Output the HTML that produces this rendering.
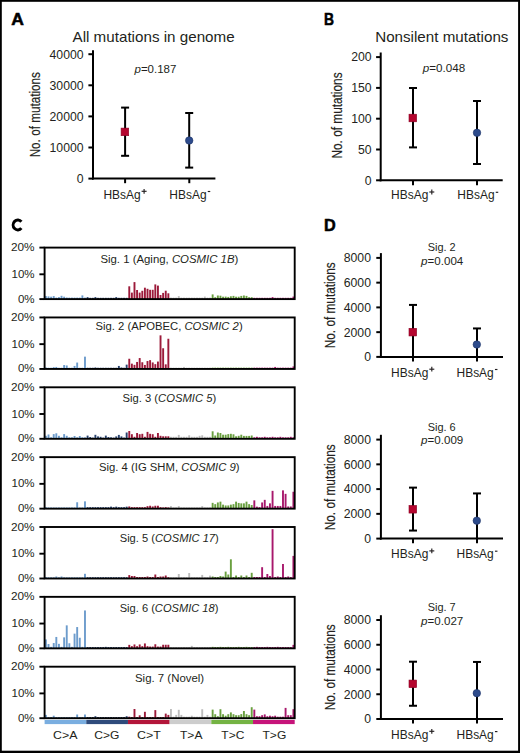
<!DOCTYPE html>
<html><head><meta charset="utf-8"><style>
html,body{margin:0;padding:0;background:#fff;}
svg{display:block;font-family:"Liberation Sans",sans-serif;}
</style></head><body>
<svg width="520" height="753" viewBox="0 0 520 753">
<rect x="0" y="0" width="520" height="753" fill="#fff"/>
<rect x="0.00" y="0.00" width="520.00" height="1.80" fill="#000"/>
<rect x="0.00" y="0.00" width="1.80" height="753.00" fill="#000"/>
<rect x="518.10" y="0.00" width="1.90" height="753.00" fill="#000"/>
<rect x="0.00" y="750.70" width="520.00" height="2.30" fill="#000"/>
<text transform="translate(11.30,25.35) scale(1.0116,1)" font-size="17.30" font-weight="bold" fill="#000" stroke="#000" stroke-width="0.55"><tspan>A</tspan></text>
<text transform="translate(72.50,41.70) scale(1.0558,1)" font-size="14.40" fill="#231f20"><tspan>All mutations in genome</tspan></text>
<line x1="93.00" y1="50.20" x2="93.00" y2="179.60" stroke="#000" stroke-width="2.00"/>
<line x1="92.00" y1="178.60" x2="215.40" y2="178.60" stroke="#000" stroke-width="2.00"/>
<line x1="88.40" y1="54.20" x2="93.00" y2="54.20" stroke="#000" stroke-width="2.00"/>
<text transform="translate(49.57,58.55) scale(1.0200,1)" font-size="12.00" fill="#231f20"><tspan>40000</tspan></text>
<line x1="88.40" y1="85.30" x2="93.00" y2="85.30" stroke="#000" stroke-width="2.00"/>
<text transform="translate(49.57,89.65) scale(1.0200,1)" font-size="12.00" fill="#231f20"><tspan>30000</tspan></text>
<line x1="88.40" y1="116.40" x2="93.00" y2="116.40" stroke="#000" stroke-width="2.00"/>
<text transform="translate(49.57,120.75) scale(1.0200,1)" font-size="12.00" fill="#231f20"><tspan>20000</tspan></text>
<line x1="88.40" y1="147.50" x2="93.00" y2="147.50" stroke="#000" stroke-width="2.00"/>
<text transform="translate(49.57,151.85) scale(1.0200,1)" font-size="12.00" fill="#231f20"><tspan>10000</tspan></text>
<line x1="88.40" y1="178.60" x2="93.00" y2="178.60" stroke="#000" stroke-width="2.00"/>
<text transform="translate(76.81,182.95) scale(1.0200,1)" font-size="12.00" fill="#231f20"><tspan>0</tspan></text>
<text transform="translate(40.30,114.70) rotate(-90) scale(0.7567,1)" font-size="15.50" fill="#231f20" stroke="#231f20" stroke-width="0.2" text-anchor="middle">No. of mutations</text>
<text transform="translate(134.49,73.20) scale(0.9899,1)" font-size="11.60" fill="#231f20"><tspan font-style="italic">p</tspan><tspan>=0.187</tspan></text>
<line x1="125.10" y1="178.60" x2="125.10" y2="183.20" stroke="#000" stroke-width="2.00"/>
<line x1="189.30" y1="178.60" x2="189.30" y2="183.20" stroke="#000" stroke-width="2.00"/>
<line x1="125.10" y1="107.60" x2="125.10" y2="155.80" stroke="#000" stroke-width="2.00"/>
<line x1="121.10" y1="107.60" x2="129.10" y2="107.60" stroke="#000" stroke-width="2.00"/>
<line x1="121.10" y1="155.80" x2="129.10" y2="155.80" stroke="#000" stroke-width="2.00"/>
<rect x="121.10" y="128.10" width="7.60" height="7.60" fill="#b5062f" stroke="#8a0022" stroke-width="0.6"/>
<line x1="189.20" y1="113.00" x2="189.20" y2="167.60" stroke="#000" stroke-width="2.00"/>
<line x1="185.20" y1="113.00" x2="193.20" y2="113.00" stroke="#000" stroke-width="2.00"/>
<line x1="185.20" y1="167.60" x2="193.20" y2="167.60" stroke="#000" stroke-width="2.00"/>
<circle cx="189.20" cy="140.50" r="3.75" fill="#2d4b8c" stroke="#1d3366" stroke-width="0.6"/>
<text transform="translate(103.40,198.60) scale(0.9968,1)" font-size="12.00" fill="#231f20"><tspan>HBsAg</tspan></text>
<line x1="141.60" y1="191.30" x2="146.60" y2="191.30" stroke="#231f20" stroke-width="1.15"/>
<line x1="144.10" y1="188.90" x2="144.10" y2="193.70" stroke="#231f20" stroke-width="1.15"/>
<text transform="translate(169.35,198.50) scale(0.9968,1)" font-size="12.00" fill="#231f20"><tspan>HBsAg</tspan></text>
<line x1="207.75" y1="191.50" x2="210.25" y2="191.50" stroke="#231f20" stroke-width="1.15"/>
<text transform="translate(324.00,25.35) scale(0.8028,1)" font-size="17.30" font-weight="bold" fill="#000" stroke="#000" stroke-width="0.55"><tspan>B</tspan></text>
<text transform="translate(375.20,41.70) scale(1.0543,1)" font-size="14.40" fill="#231f20"><tspan>Nonsilent mutations</tspan></text>
<line x1="380.70" y1="52.50" x2="380.70" y2="181.30" stroke="#000" stroke-width="2.00"/>
<line x1="379.70" y1="180.30" x2="502.70" y2="180.30" stroke="#000" stroke-width="2.00"/>
<line x1="376.10" y1="57.10" x2="380.70" y2="57.10" stroke="#000" stroke-width="2.00"/>
<text transform="translate(351.16,61.45) scale(1.0200,1)" font-size="12.00" fill="#231f20"><tspan>200</tspan></text>
<line x1="376.10" y1="87.90" x2="380.70" y2="87.90" stroke="#000" stroke-width="2.00"/>
<text transform="translate(351.16,92.25) scale(1.0200,1)" font-size="12.00" fill="#231f20"><tspan>150</tspan></text>
<line x1="376.10" y1="118.70" x2="380.70" y2="118.70" stroke="#000" stroke-width="2.00"/>
<text transform="translate(351.16,123.05) scale(1.0200,1)" font-size="12.00" fill="#231f20"><tspan>100</tspan></text>
<line x1="376.10" y1="149.50" x2="380.70" y2="149.50" stroke="#000" stroke-width="2.00"/>
<text transform="translate(358.01,153.85) scale(1.0200,1)" font-size="12.00" fill="#231f20"><tspan>50</tspan></text>
<line x1="376.10" y1="180.30" x2="380.70" y2="180.30" stroke="#000" stroke-width="2.00"/>
<text transform="translate(364.81,184.65) scale(1.0200,1)" font-size="12.00" fill="#231f20"><tspan>0</tspan></text>
<text transform="translate(342.00,115.50) rotate(-90) scale(0.7638,1)" font-size="15.50" fill="#231f20" stroke="#231f20" stroke-width="0.2" text-anchor="middle">No. of mutations</text>
<text transform="translate(422.79,71.70) scale(1.0217,1)" font-size="11.40" fill="#231f20"><tspan font-style="italic">p</tspan><tspan>=0.048</tspan></text>
<line x1="413.00" y1="180.30" x2="413.00" y2="185.20" stroke="#000" stroke-width="2.00"/>
<line x1="477.00" y1="180.30" x2="477.00" y2="185.20" stroke="#000" stroke-width="2.00"/>
<line x1="413.00" y1="88.00" x2="413.00" y2="147.40" stroke="#000" stroke-width="2.00"/>
<line x1="409.00" y1="88.00" x2="417.00" y2="88.00" stroke="#000" stroke-width="2.00"/>
<line x1="409.00" y1="147.40" x2="417.00" y2="147.40" stroke="#000" stroke-width="2.00"/>
<rect x="409.00" y="114.20" width="7.60" height="7.60" fill="#b5062f" stroke="#8a0022" stroke-width="0.6"/>
<line x1="477.00" y1="101.00" x2="477.00" y2="164.00" stroke="#000" stroke-width="2.00"/>
<line x1="473.00" y1="101.00" x2="481.00" y2="101.00" stroke="#000" stroke-width="2.00"/>
<line x1="473.00" y1="164.00" x2="481.00" y2="164.00" stroke="#000" stroke-width="2.00"/>
<circle cx="477.00" cy="132.80" r="3.75" fill="#2d4b8c" stroke="#1d3366" stroke-width="0.6"/>
<text transform="translate(391.10,199.30) scale(0.9968,1)" font-size="12.00" fill="#231f20"><tspan>HBsAg</tspan></text>
<line x1="429.30" y1="192.00" x2="434.30" y2="192.00" stroke="#231f20" stroke-width="1.15"/>
<line x1="431.80" y1="189.60" x2="431.80" y2="194.40" stroke="#231f20" stroke-width="1.15"/>
<text transform="translate(457.35,199.30) scale(0.9968,1)" font-size="12.00" fill="#231f20"><tspan>HBsAg</tspan></text>
<line x1="495.75" y1="192.30" x2="498.25" y2="192.30" stroke="#231f20" stroke-width="1.15"/>
<path d="M21.36,221.77 A4.65,4.95 0 1 0 21.36,228.13" fill="none" stroke="#000" stroke-width="3.0"/>
<rect x="44.95" y="296.10" width="1.90" height="3.00" fill="#6d9ccc"/>
<rect x="47.56" y="296.40" width="1.90" height="2.70" fill="#6d9ccc"/>
<rect x="50.16" y="296.70" width="1.90" height="2.40" fill="#6d9ccc"/>
<rect x="52.77" y="296.10" width="1.90" height="3.00" fill="#6d9ccc"/>
<rect x="55.37" y="297.60" width="1.90" height="1.50" fill="#6d9ccc"/>
<rect x="57.98" y="297.10" width="1.90" height="2.00" fill="#6d9ccc"/>
<rect x="60.58" y="295.80" width="1.90" height="3.30" fill="#6d9ccc"/>
<rect x="63.19" y="296.70" width="1.90" height="2.40" fill="#6d9ccc"/>
<rect x="65.79" y="297.50" width="1.90" height="1.60" fill="#6d9ccc"/>
<rect x="68.40" y="297.60" width="1.90" height="1.50" fill="#6d9ccc"/>
<rect x="71.00" y="297.60" width="1.90" height="1.50" fill="#6d9ccc"/>
<rect x="73.61" y="297.60" width="1.90" height="1.50" fill="#6d9ccc"/>
<rect x="76.22" y="297.60" width="1.90" height="1.50" fill="#6d9ccc"/>
<rect x="78.82" y="297.60" width="1.90" height="1.50" fill="#6d9ccc"/>
<rect x="81.43" y="295.40" width="1.90" height="3.70" fill="#6d9ccc"/>
<rect x="84.03" y="297.60" width="1.90" height="1.50" fill="#6d9ccc"/>
<rect x="86.64" y="297.10" width="1.90" height="2.00" fill="#2a4470"/>
<rect x="89.24" y="297.80" width="1.90" height="1.30" fill="#2a4470"/>
<rect x="91.85" y="297.80" width="1.90" height="1.30" fill="#2a4470"/>
<rect x="94.45" y="297.10" width="1.90" height="2.00" fill="#2a4470"/>
<rect x="97.06" y="297.80" width="1.90" height="1.30" fill="#2a4470"/>
<rect x="99.66" y="297.80" width="1.90" height="1.30" fill="#2a4470"/>
<rect x="102.27" y="297.80" width="1.90" height="1.30" fill="#2a4470"/>
<rect x="104.87" y="297.80" width="1.90" height="1.30" fill="#2a4470"/>
<rect x="107.48" y="297.80" width="1.90" height="1.30" fill="#2a4470"/>
<rect x="110.08" y="297.80" width="1.90" height="1.30" fill="#2a4470"/>
<rect x="112.69" y="297.80" width="1.90" height="1.30" fill="#2a4470"/>
<rect x="115.29" y="297.10" width="1.90" height="2.00" fill="#2a4470"/>
<rect x="117.90" y="297.80" width="1.90" height="1.30" fill="#2a4470"/>
<rect x="120.50" y="297.80" width="1.90" height="1.30" fill="#2a4470"/>
<rect x="123.11" y="297.80" width="1.90" height="1.30" fill="#2a4470"/>
<rect x="125.71" y="297.80" width="1.90" height="1.30" fill="#2a4470"/>
<rect x="128.32" y="286.30" width="1.90" height="12.80" fill="#9c1a3a"/>
<rect x="130.92" y="292.60" width="1.90" height="6.50" fill="#9c1a3a"/>
<rect x="133.53" y="282.10" width="1.90" height="17.00" fill="#9c1a3a"/>
<rect x="136.13" y="290.00" width="1.90" height="9.10" fill="#9c1a3a"/>
<rect x="138.74" y="292.60" width="1.90" height="6.50" fill="#9c1a3a"/>
<rect x="141.35" y="290.80" width="1.90" height="8.30" fill="#9c1a3a"/>
<rect x="143.95" y="287.70" width="1.90" height="11.40" fill="#9c1a3a"/>
<rect x="146.56" y="288.80" width="1.90" height="10.30" fill="#9c1a3a"/>
<rect x="149.16" y="289.80" width="1.90" height="9.30" fill="#9c1a3a"/>
<rect x="151.77" y="289.80" width="1.90" height="9.30" fill="#9c1a3a"/>
<rect x="154.37" y="284.40" width="1.90" height="14.70" fill="#9c1a3a"/>
<rect x="156.98" y="285.60" width="1.90" height="13.50" fill="#9c1a3a"/>
<rect x="159.58" y="295.00" width="1.90" height="4.10" fill="#9c1a3a"/>
<rect x="162.19" y="292.90" width="1.90" height="6.20" fill="#9c1a3a"/>
<rect x="164.79" y="290.70" width="1.90" height="8.40" fill="#9c1a3a"/>
<rect x="167.40" y="293.30" width="1.90" height="5.80" fill="#9c1a3a"/>
<rect x="170.00" y="297.60" width="1.90" height="1.50" fill="#bdbdbd"/>
<rect x="172.61" y="297.60" width="1.90" height="1.50" fill="#bdbdbd"/>
<rect x="175.21" y="297.60" width="1.90" height="1.50" fill="#bdbdbd"/>
<rect x="177.82" y="296.10" width="1.90" height="3.00" fill="#bdbdbd"/>
<rect x="180.42" y="297.60" width="1.90" height="1.50" fill="#bdbdbd"/>
<rect x="183.03" y="297.60" width="1.90" height="1.50" fill="#bdbdbd"/>
<rect x="185.63" y="297.60" width="1.90" height="1.50" fill="#bdbdbd"/>
<rect x="188.24" y="297.60" width="1.90" height="1.50" fill="#bdbdbd"/>
<rect x="190.84" y="297.60" width="1.90" height="1.50" fill="#bdbdbd"/>
<rect x="193.45" y="297.60" width="1.90" height="1.50" fill="#bdbdbd"/>
<rect x="196.05" y="297.60" width="1.90" height="1.50" fill="#bdbdbd"/>
<rect x="198.66" y="297.60" width="1.90" height="1.50" fill="#bdbdbd"/>
<rect x="201.27" y="297.60" width="1.90" height="1.50" fill="#bdbdbd"/>
<rect x="203.87" y="296.60" width="1.90" height="2.50" fill="#bdbdbd"/>
<rect x="206.48" y="297.60" width="1.90" height="1.50" fill="#bdbdbd"/>
<rect x="209.08" y="297.60" width="1.90" height="1.50" fill="#bdbdbd"/>
<rect x="211.69" y="294.40" width="1.90" height="4.70" fill="#6aa040"/>
<rect x="214.29" y="297.20" width="1.90" height="1.90" fill="#6aa040"/>
<rect x="216.90" y="295.50" width="1.90" height="3.60" fill="#6aa040"/>
<rect x="219.50" y="295.70" width="1.90" height="3.40" fill="#6aa040"/>
<rect x="222.11" y="296.70" width="1.90" height="2.40" fill="#6aa040"/>
<rect x="224.71" y="296.60" width="1.90" height="2.50" fill="#6aa040"/>
<rect x="227.32" y="296.90" width="1.90" height="2.20" fill="#6aa040"/>
<rect x="229.92" y="296.30" width="1.90" height="2.80" fill="#6aa040"/>
<rect x="232.53" y="295.90" width="1.90" height="3.20" fill="#6aa040"/>
<rect x="235.13" y="296.70" width="1.90" height="2.40" fill="#6aa040"/>
<rect x="237.74" y="296.70" width="1.90" height="2.40" fill="#6aa040"/>
<rect x="240.34" y="295.90" width="1.90" height="3.20" fill="#6aa040"/>
<rect x="242.95" y="295.50" width="1.90" height="3.60" fill="#6aa040"/>
<rect x="245.55" y="295.90" width="1.90" height="3.20" fill="#6aa040"/>
<rect x="248.16" y="297.20" width="1.90" height="1.90" fill="#6aa040"/>
<rect x="250.76" y="297.20" width="1.90" height="1.90" fill="#6aa040"/>
<rect x="253.37" y="297.80" width="1.90" height="1.30" fill="#a8186c"/>
<rect x="255.97" y="297.80" width="1.90" height="1.30" fill="#a8186c"/>
<rect x="258.58" y="297.80" width="1.90" height="1.30" fill="#a8186c"/>
<rect x="261.18" y="297.80" width="1.90" height="1.30" fill="#a8186c"/>
<rect x="263.79" y="297.80" width="1.90" height="1.30" fill="#a8186c"/>
<rect x="266.40" y="297.80" width="1.90" height="1.30" fill="#a8186c"/>
<rect x="269.00" y="297.80" width="1.90" height="1.30" fill="#a8186c"/>
<rect x="271.61" y="297.10" width="1.90" height="2.00" fill="#a8186c"/>
<rect x="274.21" y="297.80" width="1.90" height="1.30" fill="#a8186c"/>
<rect x="276.82" y="297.80" width="1.90" height="1.30" fill="#a8186c"/>
<rect x="279.42" y="297.80" width="1.90" height="1.30" fill="#a8186c"/>
<rect x="282.03" y="297.80" width="1.90" height="1.30" fill="#a8186c"/>
<rect x="284.63" y="297.80" width="1.90" height="1.30" fill="#a8186c"/>
<rect x="287.24" y="297.80" width="1.90" height="1.30" fill="#a8186c"/>
<rect x="289.84" y="297.80" width="1.90" height="1.30" fill="#a8186c"/>
<rect x="292.45" y="296.60" width="1.90" height="2.50" fill="#a8186c"/>
<rect x="44.60" y="247.60" width="250.10" height="51.50" fill="none" stroke="#000" stroke-width="1.9"/>
<line x1="39.40" y1="247.60" x2="44.60" y2="247.60" stroke="#000" stroke-width="1.90"/>
<text transform="translate(11.00,251.10) scale(1.0261,1)" font-size="11.50" fill="#231f20"><tspan>20%</tspan></text>
<line x1="39.40" y1="274.30" x2="44.60" y2="274.30" stroke="#000" stroke-width="1.90"/>
<text transform="translate(11.50,277.80) scale(1.0043,1)" font-size="11.50" fill="#231f20"><tspan>10%</tspan></text>
<line x1="39.40" y1="299.10" x2="44.60" y2="299.10" stroke="#000" stroke-width="1.90"/>
<text transform="translate(17.90,302.60) scale(1.0050,1)" font-size="11.50" fill="#231f20"><tspan>0%</tspan></text>
<text transform="translate(100.40,262.60) scale(1.0353,1)" font-size="11.00" fill="#231f20"><tspan>Sig. 1 (Aging, </tspan><tspan font-style="italic">COSMIC 1B</tspan><tspan>)</tspan></text>
<rect x="44.95" y="367.45" width="1.90" height="1.50" fill="#6d9ccc"/>
<rect x="47.56" y="367.75" width="1.90" height="1.20" fill="#6d9ccc"/>
<rect x="50.16" y="367.75" width="1.90" height="1.20" fill="#6d9ccc"/>
<rect x="52.77" y="367.15" width="1.90" height="1.80" fill="#6d9ccc"/>
<rect x="55.37" y="366.95" width="1.90" height="2.00" fill="#6d9ccc"/>
<rect x="57.98" y="367.75" width="1.90" height="1.20" fill="#6d9ccc"/>
<rect x="60.58" y="367.75" width="1.90" height="1.20" fill="#6d9ccc"/>
<rect x="63.19" y="365.05" width="1.90" height="3.90" fill="#6d9ccc"/>
<rect x="65.79" y="365.45" width="1.90" height="3.50" fill="#6d9ccc"/>
<rect x="68.40" y="367.75" width="1.90" height="1.20" fill="#6d9ccc"/>
<rect x="71.00" y="367.75" width="1.90" height="1.20" fill="#6d9ccc"/>
<rect x="73.61" y="365.95" width="1.90" height="3.00" fill="#6d9ccc"/>
<rect x="76.22" y="362.55" width="1.90" height="6.40" fill="#6d9ccc"/>
<rect x="78.82" y="367.75" width="1.90" height="1.20" fill="#6d9ccc"/>
<rect x="81.43" y="367.75" width="1.90" height="1.20" fill="#6d9ccc"/>
<rect x="84.03" y="356.65" width="1.90" height="12.30" fill="#6d9ccc"/>
<rect x="86.64" y="367.75" width="1.90" height="1.20" fill="#2a4470"/>
<rect x="89.24" y="367.75" width="1.90" height="1.20" fill="#2a4470"/>
<rect x="91.85" y="367.75" width="1.90" height="1.20" fill="#2a4470"/>
<rect x="94.45" y="367.45" width="1.90" height="1.50" fill="#2a4470"/>
<rect x="97.06" y="367.75" width="1.90" height="1.20" fill="#2a4470"/>
<rect x="99.66" y="367.75" width="1.90" height="1.20" fill="#2a4470"/>
<rect x="102.27" y="367.75" width="1.90" height="1.20" fill="#2a4470"/>
<rect x="104.87" y="367.75" width="1.90" height="1.20" fill="#2a4470"/>
<rect x="107.48" y="367.75" width="1.90" height="1.20" fill="#2a4470"/>
<rect x="110.08" y="367.75" width="1.90" height="1.20" fill="#2a4470"/>
<rect x="112.69" y="367.75" width="1.90" height="1.20" fill="#2a4470"/>
<rect x="115.29" y="367.75" width="1.90" height="1.20" fill="#2a4470"/>
<rect x="117.90" y="365.95" width="1.90" height="3.00" fill="#2a4470"/>
<rect x="120.50" y="367.45" width="1.90" height="1.50" fill="#2a4470"/>
<rect x="123.11" y="367.75" width="1.90" height="1.20" fill="#2a4470"/>
<rect x="125.71" y="364.65" width="1.90" height="4.30" fill="#2a4470"/>
<rect x="128.32" y="358.75" width="1.90" height="10.20" fill="#9c1a3a"/>
<rect x="130.92" y="363.65" width="1.90" height="5.30" fill="#9c1a3a"/>
<rect x="133.53" y="364.85" width="1.90" height="4.10" fill="#9c1a3a"/>
<rect x="136.13" y="361.95" width="1.90" height="7.00" fill="#9c1a3a"/>
<rect x="138.74" y="358.05" width="1.90" height="10.90" fill="#9c1a3a"/>
<rect x="141.35" y="362.25" width="1.90" height="6.70" fill="#9c1a3a"/>
<rect x="143.95" y="364.95" width="1.90" height="4.00" fill="#9c1a3a"/>
<rect x="146.56" y="361.05" width="1.90" height="7.90" fill="#9c1a3a"/>
<rect x="149.16" y="360.15" width="1.90" height="8.80" fill="#9c1a3a"/>
<rect x="151.77" y="362.45" width="1.90" height="6.50" fill="#9c1a3a"/>
<rect x="154.37" y="364.15" width="1.90" height="4.80" fill="#9c1a3a"/>
<rect x="156.98" y="361.55" width="1.90" height="7.40" fill="#9c1a3a"/>
<rect x="159.58" y="335.35" width="1.90" height="33.60" fill="#9c1a3a"/>
<rect x="162.19" y="348.25" width="1.90" height="20.70" fill="#9c1a3a"/>
<rect x="164.79" y="364.35" width="1.90" height="4.60" fill="#9c1a3a"/>
<rect x="167.40" y="338.75" width="1.90" height="30.20" fill="#9c1a3a"/>
<rect x="170.00" y="367.65" width="1.90" height="1.30" fill="#bdbdbd"/>
<rect x="172.61" y="367.65" width="1.90" height="1.30" fill="#bdbdbd"/>
<rect x="175.21" y="367.65" width="1.90" height="1.30" fill="#bdbdbd"/>
<rect x="177.82" y="367.65" width="1.90" height="1.30" fill="#bdbdbd"/>
<rect x="180.42" y="367.65" width="1.90" height="1.30" fill="#bdbdbd"/>
<rect x="183.03" y="366.95" width="1.90" height="2.00" fill="#bdbdbd"/>
<rect x="185.63" y="367.65" width="1.90" height="1.30" fill="#bdbdbd"/>
<rect x="188.24" y="367.65" width="1.90" height="1.30" fill="#bdbdbd"/>
<rect x="190.84" y="367.65" width="1.90" height="1.30" fill="#bdbdbd"/>
<rect x="193.45" y="367.65" width="1.90" height="1.30" fill="#bdbdbd"/>
<rect x="196.05" y="367.65" width="1.90" height="1.30" fill="#bdbdbd"/>
<rect x="198.66" y="367.65" width="1.90" height="1.30" fill="#bdbdbd"/>
<rect x="201.27" y="367.65" width="1.90" height="1.30" fill="#bdbdbd"/>
<rect x="203.87" y="367.65" width="1.90" height="1.30" fill="#bdbdbd"/>
<rect x="206.48" y="367.65" width="1.90" height="1.30" fill="#bdbdbd"/>
<rect x="209.08" y="367.65" width="1.90" height="1.30" fill="#bdbdbd"/>
<rect x="211.69" y="367.65" width="1.90" height="1.30" fill="#6aa040"/>
<rect x="214.29" y="367.65" width="1.90" height="1.30" fill="#6aa040"/>
<rect x="216.90" y="367.65" width="1.90" height="1.30" fill="#6aa040"/>
<rect x="219.50" y="367.65" width="1.90" height="1.30" fill="#6aa040"/>
<rect x="222.11" y="367.65" width="1.90" height="1.30" fill="#6aa040"/>
<rect x="224.71" y="367.65" width="1.90" height="1.30" fill="#6aa040"/>
<rect x="227.32" y="367.65" width="1.90" height="1.30" fill="#6aa040"/>
<rect x="229.92" y="367.65" width="1.90" height="1.30" fill="#6aa040"/>
<rect x="232.53" y="367.65" width="1.90" height="1.30" fill="#6aa040"/>
<rect x="235.13" y="367.65" width="1.90" height="1.30" fill="#6aa040"/>
<rect x="237.74" y="367.65" width="1.90" height="1.30" fill="#6aa040"/>
<rect x="240.34" y="367.65" width="1.90" height="1.30" fill="#6aa040"/>
<rect x="242.95" y="367.65" width="1.90" height="1.30" fill="#6aa040"/>
<rect x="245.55" y="367.65" width="1.90" height="1.30" fill="#6aa040"/>
<rect x="248.16" y="367.65" width="1.90" height="1.30" fill="#6aa040"/>
<rect x="250.76" y="367.65" width="1.90" height="1.30" fill="#6aa040"/>
<rect x="253.37" y="367.65" width="1.90" height="1.30" fill="#a8186c"/>
<rect x="255.97" y="367.65" width="1.90" height="1.30" fill="#a8186c"/>
<rect x="258.58" y="367.65" width="1.90" height="1.30" fill="#a8186c"/>
<rect x="261.18" y="367.65" width="1.90" height="1.30" fill="#a8186c"/>
<rect x="263.79" y="367.65" width="1.90" height="1.30" fill="#a8186c"/>
<rect x="266.40" y="367.65" width="1.90" height="1.30" fill="#a8186c"/>
<rect x="269.00" y="367.65" width="1.90" height="1.30" fill="#a8186c"/>
<rect x="271.61" y="367.65" width="1.90" height="1.30" fill="#a8186c"/>
<rect x="274.21" y="366.95" width="1.90" height="2.00" fill="#a8186c"/>
<rect x="276.82" y="367.65" width="1.90" height="1.30" fill="#a8186c"/>
<rect x="279.42" y="367.65" width="1.90" height="1.30" fill="#a8186c"/>
<rect x="282.03" y="367.65" width="1.90" height="1.30" fill="#a8186c"/>
<rect x="284.63" y="367.65" width="1.90" height="1.30" fill="#a8186c"/>
<rect x="287.24" y="367.65" width="1.90" height="1.30" fill="#a8186c"/>
<rect x="289.84" y="367.65" width="1.90" height="1.30" fill="#a8186c"/>
<rect x="292.45" y="366.45" width="1.90" height="2.50" fill="#a8186c"/>
<rect x="44.60" y="317.45" width="250.10" height="51.50" fill="none" stroke="#000" stroke-width="1.9"/>
<line x1="39.40" y1="317.45" x2="44.60" y2="317.45" stroke="#000" stroke-width="1.90"/>
<text transform="translate(11.00,320.95) scale(1.0261,1)" font-size="11.50" fill="#231f20"><tspan>20%</tspan></text>
<line x1="39.40" y1="344.15" x2="44.60" y2="344.15" stroke="#000" stroke-width="1.90"/>
<text transform="translate(11.50,347.65) scale(1.0043,1)" font-size="11.50" fill="#231f20"><tspan>10%</tspan></text>
<line x1="39.40" y1="368.95" x2="44.60" y2="368.95" stroke="#000" stroke-width="1.90"/>
<text transform="translate(17.90,372.45) scale(1.0050,1)" font-size="11.50" fill="#231f20"><tspan>0%</tspan></text>
<text transform="translate(95.50,329.80) scale(1.0260,1)" font-size="11.00" fill="#231f20"><tspan>Sig. 2 (APOBEC, </tspan><tspan font-style="italic">COSMIC 2</tspan><tspan>)</tspan></text>
<rect x="44.95" y="435.80" width="1.90" height="3.00" fill="#6d9ccc"/>
<rect x="47.56" y="434.50" width="1.90" height="4.30" fill="#6d9ccc"/>
<rect x="50.16" y="437.30" width="1.90" height="1.50" fill="#6d9ccc"/>
<rect x="52.77" y="434.10" width="1.90" height="4.70" fill="#6d9ccc"/>
<rect x="55.37" y="433.30" width="1.90" height="5.50" fill="#6d9ccc"/>
<rect x="57.98" y="435.80" width="1.90" height="3.00" fill="#6d9ccc"/>
<rect x="60.58" y="437.30" width="1.90" height="1.50" fill="#6d9ccc"/>
<rect x="63.19" y="434.10" width="1.90" height="4.70" fill="#6d9ccc"/>
<rect x="65.79" y="435.80" width="1.90" height="3.00" fill="#6d9ccc"/>
<rect x="68.40" y="437.30" width="1.90" height="1.50" fill="#6d9ccc"/>
<rect x="71.00" y="437.30" width="1.90" height="1.50" fill="#6d9ccc"/>
<rect x="73.61" y="436.00" width="1.90" height="2.80" fill="#6d9ccc"/>
<rect x="76.22" y="437.30" width="1.90" height="1.50" fill="#6d9ccc"/>
<rect x="78.82" y="436.00" width="1.90" height="2.80" fill="#6d9ccc"/>
<rect x="81.43" y="437.30" width="1.90" height="1.50" fill="#6d9ccc"/>
<rect x="84.03" y="437.30" width="1.90" height="1.50" fill="#6d9ccc"/>
<rect x="86.64" y="435.60" width="1.90" height="3.20" fill="#2a4470"/>
<rect x="89.24" y="437.00" width="1.90" height="1.80" fill="#2a4470"/>
<rect x="91.85" y="437.60" width="1.90" height="1.20" fill="#2a4470"/>
<rect x="94.45" y="434.80" width="1.90" height="4.00" fill="#2a4470"/>
<rect x="97.06" y="436.40" width="1.90" height="2.40" fill="#2a4470"/>
<rect x="99.66" y="436.80" width="1.90" height="2.00" fill="#2a4470"/>
<rect x="102.27" y="437.60" width="1.90" height="1.20" fill="#2a4470"/>
<rect x="104.87" y="435.60" width="1.90" height="3.20" fill="#2a4470"/>
<rect x="107.48" y="437.00" width="1.90" height="1.80" fill="#2a4470"/>
<rect x="110.08" y="437.30" width="1.90" height="1.50" fill="#2a4470"/>
<rect x="112.69" y="437.60" width="1.90" height="1.20" fill="#2a4470"/>
<rect x="115.29" y="436.40" width="1.90" height="2.40" fill="#2a4470"/>
<rect x="117.90" y="434.90" width="1.90" height="3.90" fill="#2a4470"/>
<rect x="120.50" y="436.40" width="1.90" height="2.40" fill="#2a4470"/>
<rect x="123.11" y="437.60" width="1.90" height="1.20" fill="#2a4470"/>
<rect x="125.71" y="432.50" width="1.90" height="6.30" fill="#2a4470"/>
<rect x="128.32" y="431.00" width="1.90" height="7.80" fill="#9c1a3a"/>
<rect x="130.92" y="434.20" width="1.90" height="4.60" fill="#9c1a3a"/>
<rect x="133.53" y="436.80" width="1.90" height="2.00" fill="#9c1a3a"/>
<rect x="136.13" y="433.00" width="1.90" height="5.80" fill="#9c1a3a"/>
<rect x="138.74" y="434.20" width="1.90" height="4.60" fill="#9c1a3a"/>
<rect x="141.35" y="433.80" width="1.90" height="5.00" fill="#9c1a3a"/>
<rect x="143.95" y="436.80" width="1.90" height="2.00" fill="#9c1a3a"/>
<rect x="146.56" y="431.90" width="1.90" height="6.90" fill="#9c1a3a"/>
<rect x="149.16" y="433.80" width="1.90" height="5.00" fill="#9c1a3a"/>
<rect x="151.77" y="434.20" width="1.90" height="4.60" fill="#9c1a3a"/>
<rect x="154.37" y="436.80" width="1.90" height="2.00" fill="#9c1a3a"/>
<rect x="156.98" y="433.00" width="1.90" height="5.80" fill="#9c1a3a"/>
<rect x="159.58" y="435.80" width="1.90" height="3.00" fill="#9c1a3a"/>
<rect x="162.19" y="436.30" width="1.90" height="2.50" fill="#9c1a3a"/>
<rect x="164.79" y="436.30" width="1.90" height="2.50" fill="#9c1a3a"/>
<rect x="167.40" y="436.30" width="1.90" height="2.50" fill="#9c1a3a"/>
<rect x="170.00" y="436.80" width="1.90" height="2.00" fill="#bdbdbd"/>
<rect x="172.61" y="436.80" width="1.90" height="2.00" fill="#bdbdbd"/>
<rect x="175.21" y="436.80" width="1.90" height="2.00" fill="#bdbdbd"/>
<rect x="177.82" y="434.90" width="1.90" height="3.90" fill="#bdbdbd"/>
<rect x="180.42" y="436.80" width="1.90" height="2.00" fill="#bdbdbd"/>
<rect x="183.03" y="436.80" width="1.90" height="2.00" fill="#bdbdbd"/>
<rect x="185.63" y="436.80" width="1.90" height="2.00" fill="#bdbdbd"/>
<rect x="188.24" y="435.30" width="1.90" height="3.50" fill="#bdbdbd"/>
<rect x="190.84" y="436.80" width="1.90" height="2.00" fill="#bdbdbd"/>
<rect x="193.45" y="436.80" width="1.90" height="2.00" fill="#bdbdbd"/>
<rect x="196.05" y="436.80" width="1.90" height="2.00" fill="#bdbdbd"/>
<rect x="198.66" y="435.80" width="1.90" height="3.00" fill="#bdbdbd"/>
<rect x="201.27" y="435.30" width="1.90" height="3.50" fill="#bdbdbd"/>
<rect x="203.87" y="436.80" width="1.90" height="2.00" fill="#bdbdbd"/>
<rect x="206.48" y="436.80" width="1.90" height="2.00" fill="#bdbdbd"/>
<rect x="209.08" y="436.80" width="1.90" height="2.00" fill="#bdbdbd"/>
<rect x="211.69" y="431.30" width="1.90" height="7.50" fill="#6aa040"/>
<rect x="214.29" y="435.50" width="1.90" height="3.30" fill="#6aa040"/>
<rect x="216.90" y="432.50" width="1.90" height="6.30" fill="#6aa040"/>
<rect x="219.50" y="433.00" width="1.90" height="5.80" fill="#6aa040"/>
<rect x="222.11" y="434.70" width="1.90" height="4.10" fill="#6aa040"/>
<rect x="224.71" y="434.70" width="1.90" height="4.10" fill="#6aa040"/>
<rect x="227.32" y="434.10" width="1.90" height="4.70" fill="#6aa040"/>
<rect x="229.92" y="433.80" width="1.90" height="5.00" fill="#6aa040"/>
<rect x="232.53" y="434.30" width="1.90" height="4.50" fill="#6aa040"/>
<rect x="235.13" y="436.30" width="1.90" height="2.50" fill="#6aa040"/>
<rect x="237.74" y="435.80" width="1.90" height="3.00" fill="#6aa040"/>
<rect x="240.34" y="434.70" width="1.90" height="4.10" fill="#6aa040"/>
<rect x="242.95" y="435.90" width="1.90" height="2.90" fill="#6aa040"/>
<rect x="245.55" y="435.90" width="1.90" height="2.90" fill="#6aa040"/>
<rect x="248.16" y="435.90" width="1.90" height="2.90" fill="#6aa040"/>
<rect x="250.76" y="435.50" width="1.90" height="3.30" fill="#6aa040"/>
<rect x="253.37" y="437.30" width="1.90" height="1.50" fill="#a8186c"/>
<rect x="255.97" y="436.80" width="1.90" height="2.00" fill="#a8186c"/>
<rect x="258.58" y="437.30" width="1.90" height="1.50" fill="#a8186c"/>
<rect x="261.18" y="437.30" width="1.90" height="1.50" fill="#a8186c"/>
<rect x="263.79" y="436.80" width="1.90" height="2.00" fill="#a8186c"/>
<rect x="266.40" y="437.30" width="1.90" height="1.50" fill="#a8186c"/>
<rect x="269.00" y="437.30" width="1.90" height="1.50" fill="#a8186c"/>
<rect x="271.61" y="436.80" width="1.90" height="2.00" fill="#a8186c"/>
<rect x="274.21" y="437.30" width="1.90" height="1.50" fill="#a8186c"/>
<rect x="276.82" y="437.30" width="1.90" height="1.50" fill="#a8186c"/>
<rect x="279.42" y="436.80" width="1.90" height="2.00" fill="#a8186c"/>
<rect x="282.03" y="437.30" width="1.90" height="1.50" fill="#a8186c"/>
<rect x="284.63" y="437.30" width="1.90" height="1.50" fill="#a8186c"/>
<rect x="287.24" y="437.30" width="1.90" height="1.50" fill="#a8186c"/>
<rect x="289.84" y="436.80" width="1.90" height="2.00" fill="#a8186c"/>
<rect x="292.45" y="437.30" width="1.90" height="1.50" fill="#a8186c"/>
<rect x="44.60" y="387.30" width="250.10" height="51.50" fill="none" stroke="#000" stroke-width="1.9"/>
<line x1="39.40" y1="387.30" x2="44.60" y2="387.30" stroke="#000" stroke-width="1.90"/>
<text transform="translate(11.00,390.80) scale(1.0261,1)" font-size="11.50" fill="#231f20"><tspan>20%</tspan></text>
<line x1="39.40" y1="414.00" x2="44.60" y2="414.00" stroke="#000" stroke-width="1.90"/>
<text transform="translate(11.50,417.50) scale(1.0043,1)" font-size="11.50" fill="#231f20"><tspan>10%</tspan></text>
<line x1="39.40" y1="438.80" x2="44.60" y2="438.80" stroke="#000" stroke-width="1.90"/>
<text transform="translate(17.90,442.30) scale(1.0050,1)" font-size="11.50" fill="#231f20"><tspan>0%</tspan></text>
<text transform="translate(122.50,401.60) scale(1.0228,1)" font-size="11.00" fill="#231f20"><tspan>Sig. 3 (</tspan><tspan font-style="italic">COSMIC 5</tspan><tspan>)</tspan></text>
<rect x="44.95" y="507.15" width="1.90" height="1.50" fill="#6d9ccc"/>
<rect x="47.56" y="507.45" width="1.90" height="1.20" fill="#6d9ccc"/>
<rect x="50.16" y="507.45" width="1.90" height="1.20" fill="#6d9ccc"/>
<rect x="52.77" y="507.45" width="1.90" height="1.20" fill="#6d9ccc"/>
<rect x="55.37" y="507.45" width="1.90" height="1.20" fill="#6d9ccc"/>
<rect x="57.98" y="507.45" width="1.90" height="1.20" fill="#6d9ccc"/>
<rect x="60.58" y="507.45" width="1.90" height="1.20" fill="#6d9ccc"/>
<rect x="63.19" y="507.45" width="1.90" height="1.20" fill="#6d9ccc"/>
<rect x="65.79" y="507.45" width="1.90" height="1.20" fill="#6d9ccc"/>
<rect x="68.40" y="507.45" width="1.90" height="1.20" fill="#6d9ccc"/>
<rect x="71.00" y="507.45" width="1.90" height="1.20" fill="#6d9ccc"/>
<rect x="73.61" y="507.45" width="1.90" height="1.20" fill="#6d9ccc"/>
<rect x="76.22" y="502.25" width="1.90" height="6.40" fill="#6d9ccc"/>
<rect x="78.82" y="507.45" width="1.90" height="1.20" fill="#6d9ccc"/>
<rect x="81.43" y="507.45" width="1.90" height="1.20" fill="#6d9ccc"/>
<rect x="84.03" y="501.35" width="1.90" height="7.30" fill="#6d9ccc"/>
<rect x="86.64" y="507.15" width="1.90" height="1.50" fill="#2a4470"/>
<rect x="89.24" y="507.15" width="1.90" height="1.50" fill="#2a4470"/>
<rect x="91.85" y="507.15" width="1.90" height="1.50" fill="#2a4470"/>
<rect x="94.45" y="507.15" width="1.90" height="1.50" fill="#2a4470"/>
<rect x="97.06" y="507.15" width="1.90" height="1.50" fill="#2a4470"/>
<rect x="99.66" y="507.15" width="1.90" height="1.50" fill="#2a4470"/>
<rect x="102.27" y="507.15" width="1.90" height="1.50" fill="#2a4470"/>
<rect x="104.87" y="507.15" width="1.90" height="1.50" fill="#2a4470"/>
<rect x="107.48" y="507.15" width="1.90" height="1.50" fill="#2a4470"/>
<rect x="110.08" y="506.65" width="1.90" height="2.00" fill="#2a4470"/>
<rect x="112.69" y="507.15" width="1.90" height="1.50" fill="#2a4470"/>
<rect x="115.29" y="506.65" width="1.90" height="2.00" fill="#2a4470"/>
<rect x="117.90" y="507.15" width="1.90" height="1.50" fill="#2a4470"/>
<rect x="120.50" y="507.15" width="1.90" height="1.50" fill="#2a4470"/>
<rect x="123.11" y="507.15" width="1.90" height="1.50" fill="#2a4470"/>
<rect x="125.71" y="506.65" width="1.90" height="2.00" fill="#2a4470"/>
<rect x="128.32" y="506.45" width="1.90" height="2.20" fill="#9c1a3a"/>
<rect x="130.92" y="507.15" width="1.90" height="1.50" fill="#9c1a3a"/>
<rect x="133.53" y="507.15" width="1.90" height="1.50" fill="#9c1a3a"/>
<rect x="136.13" y="507.15" width="1.90" height="1.50" fill="#9c1a3a"/>
<rect x="138.74" y="507.15" width="1.90" height="1.50" fill="#9c1a3a"/>
<rect x="141.35" y="507.15" width="1.90" height="1.50" fill="#9c1a3a"/>
<rect x="143.95" y="507.15" width="1.90" height="1.50" fill="#9c1a3a"/>
<rect x="146.56" y="506.15" width="1.90" height="2.50" fill="#9c1a3a"/>
<rect x="149.16" y="505.75" width="1.90" height="2.90" fill="#9c1a3a"/>
<rect x="151.77" y="506.45" width="1.90" height="2.20" fill="#9c1a3a"/>
<rect x="154.37" y="505.75" width="1.90" height="2.90" fill="#9c1a3a"/>
<rect x="156.98" y="505.75" width="1.90" height="2.90" fill="#9c1a3a"/>
<rect x="159.58" y="507.15" width="1.90" height="1.50" fill="#9c1a3a"/>
<rect x="162.19" y="507.45" width="1.90" height="1.20" fill="#9c1a3a"/>
<rect x="164.79" y="507.15" width="1.90" height="1.50" fill="#9c1a3a"/>
<rect x="167.40" y="507.45" width="1.90" height="1.20" fill="#9c1a3a"/>
<rect x="170.00" y="506.15" width="1.90" height="2.50" fill="#bdbdbd"/>
<rect x="172.61" y="507.45" width="1.90" height="1.20" fill="#bdbdbd"/>
<rect x="175.21" y="507.45" width="1.90" height="1.20" fill="#bdbdbd"/>
<rect x="177.82" y="506.15" width="1.90" height="2.50" fill="#bdbdbd"/>
<rect x="180.42" y="507.45" width="1.90" height="1.20" fill="#bdbdbd"/>
<rect x="183.03" y="507.45" width="1.90" height="1.20" fill="#bdbdbd"/>
<rect x="185.63" y="507.45" width="1.90" height="1.20" fill="#bdbdbd"/>
<rect x="188.24" y="507.45" width="1.90" height="1.20" fill="#bdbdbd"/>
<rect x="190.84" y="507.45" width="1.90" height="1.20" fill="#bdbdbd"/>
<rect x="193.45" y="507.45" width="1.90" height="1.20" fill="#bdbdbd"/>
<rect x="196.05" y="507.45" width="1.90" height="1.20" fill="#bdbdbd"/>
<rect x="198.66" y="507.45" width="1.90" height="1.20" fill="#bdbdbd"/>
<rect x="201.27" y="506.15" width="1.90" height="2.50" fill="#bdbdbd"/>
<rect x="203.87" y="507.45" width="1.90" height="1.20" fill="#bdbdbd"/>
<rect x="206.48" y="507.45" width="1.90" height="1.20" fill="#bdbdbd"/>
<rect x="209.08" y="507.45" width="1.90" height="1.20" fill="#bdbdbd"/>
<rect x="211.69" y="502.85" width="1.90" height="5.80" fill="#6aa040"/>
<rect x="214.29" y="504.15" width="1.90" height="4.50" fill="#6aa040"/>
<rect x="216.90" y="502.45" width="1.90" height="6.20" fill="#6aa040"/>
<rect x="219.50" y="501.65" width="1.90" height="7.00" fill="#6aa040"/>
<rect x="222.11" y="504.65" width="1.90" height="4.00" fill="#6aa040"/>
<rect x="224.71" y="505.45" width="1.90" height="3.20" fill="#6aa040"/>
<rect x="227.32" y="505.45" width="1.90" height="3.20" fill="#6aa040"/>
<rect x="229.92" y="504.65" width="1.90" height="4.00" fill="#6aa040"/>
<rect x="232.53" y="504.15" width="1.90" height="4.50" fill="#6aa040"/>
<rect x="235.13" y="501.65" width="1.90" height="7.00" fill="#6aa040"/>
<rect x="237.74" y="502.95" width="1.90" height="5.70" fill="#6aa040"/>
<rect x="240.34" y="503.35" width="1.90" height="5.30" fill="#6aa040"/>
<rect x="242.95" y="503.35" width="1.90" height="5.30" fill="#6aa040"/>
<rect x="245.55" y="501.65" width="1.90" height="7.00" fill="#6aa040"/>
<rect x="248.16" y="504.15" width="1.90" height="4.50" fill="#6aa040"/>
<rect x="250.76" y="505.05" width="1.90" height="3.60" fill="#6aa040"/>
<rect x="253.37" y="500.35" width="1.90" height="8.30" fill="#a8186c"/>
<rect x="255.97" y="506.65" width="1.90" height="2.00" fill="#a8186c"/>
<rect x="258.58" y="507.15" width="1.90" height="1.50" fill="#a8186c"/>
<rect x="261.18" y="502.45" width="1.90" height="6.20" fill="#a8186c"/>
<rect x="263.79" y="499.85" width="1.90" height="8.80" fill="#a8186c"/>
<rect x="266.40" y="505.95" width="1.90" height="2.70" fill="#a8186c"/>
<rect x="269.00" y="503.35" width="1.90" height="5.30" fill="#a8186c"/>
<rect x="271.61" y="490.85" width="1.90" height="17.80" fill="#a8186c"/>
<rect x="274.21" y="505.95" width="1.90" height="2.70" fill="#a8186c"/>
<rect x="276.82" y="505.95" width="1.90" height="2.70" fill="#a8186c"/>
<rect x="279.42" y="505.95" width="1.90" height="2.70" fill="#a8186c"/>
<rect x="282.03" y="490.35" width="1.90" height="18.30" fill="#a8186c"/>
<rect x="284.63" y="493.85" width="1.90" height="14.80" fill="#a8186c"/>
<rect x="287.24" y="506.45" width="1.90" height="2.20" fill="#a8186c"/>
<rect x="289.84" y="506.45" width="1.90" height="2.20" fill="#a8186c"/>
<rect x="292.45" y="491.75" width="1.90" height="16.90" fill="#a8186c"/>
<rect x="44.60" y="457.15" width="250.10" height="51.50" fill="none" stroke="#000" stroke-width="1.9"/>
<line x1="39.40" y1="457.15" x2="44.60" y2="457.15" stroke="#000" stroke-width="1.90"/>
<text transform="translate(11.00,460.65) scale(1.0261,1)" font-size="11.50" fill="#231f20"><tspan>20%</tspan></text>
<line x1="39.40" y1="483.85" x2="44.60" y2="483.85" stroke="#000" stroke-width="1.90"/>
<text transform="translate(11.50,487.35) scale(1.0043,1)" font-size="11.50" fill="#231f20"><tspan>10%</tspan></text>
<line x1="39.40" y1="508.65" x2="44.60" y2="508.65" stroke="#000" stroke-width="1.90"/>
<text transform="translate(17.90,512.15) scale(1.0050,1)" font-size="11.50" fill="#231f20"><tspan>0%</tspan></text>
<text transform="translate(99.00,470.70) scale(1.0282,1)" font-size="11.00" fill="#231f20"><tspan>Sig. 4 (IG SHM, </tspan><tspan font-style="italic">COSMIC 9</tspan><tspan>)</tspan></text>
<rect x="44.95" y="577.00" width="1.90" height="1.50" fill="#6d9ccc"/>
<rect x="47.56" y="577.30" width="1.90" height="1.20" fill="#6d9ccc"/>
<rect x="50.16" y="577.30" width="1.90" height="1.20" fill="#6d9ccc"/>
<rect x="52.77" y="577.30" width="1.90" height="1.20" fill="#6d9ccc"/>
<rect x="55.37" y="576.50" width="1.90" height="2.00" fill="#6d9ccc"/>
<rect x="57.98" y="577.30" width="1.90" height="1.20" fill="#6d9ccc"/>
<rect x="60.58" y="576.50" width="1.90" height="2.00" fill="#6d9ccc"/>
<rect x="63.19" y="577.30" width="1.90" height="1.20" fill="#6d9ccc"/>
<rect x="65.79" y="577.30" width="1.90" height="1.20" fill="#6d9ccc"/>
<rect x="68.40" y="577.30" width="1.90" height="1.20" fill="#6d9ccc"/>
<rect x="71.00" y="577.30" width="1.90" height="1.20" fill="#6d9ccc"/>
<rect x="73.61" y="577.30" width="1.90" height="1.20" fill="#6d9ccc"/>
<rect x="76.22" y="577.30" width="1.90" height="1.20" fill="#6d9ccc"/>
<rect x="78.82" y="577.30" width="1.90" height="1.20" fill="#6d9ccc"/>
<rect x="81.43" y="577.30" width="1.90" height="1.20" fill="#6d9ccc"/>
<rect x="84.03" y="573.80" width="1.90" height="4.70" fill="#6d9ccc"/>
<rect x="86.64" y="577.20" width="1.90" height="1.30" fill="#2a4470"/>
<rect x="89.24" y="577.20" width="1.90" height="1.30" fill="#2a4470"/>
<rect x="91.85" y="577.20" width="1.90" height="1.30" fill="#2a4470"/>
<rect x="94.45" y="577.20" width="1.90" height="1.30" fill="#2a4470"/>
<rect x="97.06" y="577.20" width="1.90" height="1.30" fill="#2a4470"/>
<rect x="99.66" y="577.20" width="1.90" height="1.30" fill="#2a4470"/>
<rect x="102.27" y="577.20" width="1.90" height="1.30" fill="#2a4470"/>
<rect x="104.87" y="577.20" width="1.90" height="1.30" fill="#2a4470"/>
<rect x="107.48" y="577.20" width="1.90" height="1.30" fill="#2a4470"/>
<rect x="110.08" y="577.20" width="1.90" height="1.30" fill="#2a4470"/>
<rect x="112.69" y="577.20" width="1.90" height="1.30" fill="#2a4470"/>
<rect x="115.29" y="577.20" width="1.90" height="1.30" fill="#2a4470"/>
<rect x="117.90" y="577.20" width="1.90" height="1.30" fill="#2a4470"/>
<rect x="120.50" y="577.20" width="1.90" height="1.30" fill="#2a4470"/>
<rect x="123.11" y="577.20" width="1.90" height="1.30" fill="#2a4470"/>
<rect x="125.71" y="577.20" width="1.90" height="1.30" fill="#2a4470"/>
<rect x="128.32" y="575.10" width="1.90" height="3.40" fill="#9c1a3a"/>
<rect x="130.92" y="576.00" width="1.90" height="2.50" fill="#9c1a3a"/>
<rect x="133.53" y="576.00" width="1.90" height="2.50" fill="#9c1a3a"/>
<rect x="136.13" y="577.00" width="1.90" height="1.50" fill="#9c1a3a"/>
<rect x="138.74" y="577.00" width="1.90" height="1.50" fill="#9c1a3a"/>
<rect x="141.35" y="577.00" width="1.90" height="1.50" fill="#9c1a3a"/>
<rect x="143.95" y="577.00" width="1.90" height="1.50" fill="#9c1a3a"/>
<rect x="146.56" y="576.50" width="1.90" height="2.00" fill="#9c1a3a"/>
<rect x="149.16" y="577.00" width="1.90" height="1.50" fill="#9c1a3a"/>
<rect x="151.77" y="577.00" width="1.90" height="1.50" fill="#9c1a3a"/>
<rect x="154.37" y="574.50" width="1.90" height="4.00" fill="#9c1a3a"/>
<rect x="156.98" y="577.00" width="1.90" height="1.50" fill="#9c1a3a"/>
<rect x="159.58" y="576.50" width="1.90" height="2.00" fill="#9c1a3a"/>
<rect x="162.19" y="576.50" width="1.90" height="2.00" fill="#9c1a3a"/>
<rect x="164.79" y="575.50" width="1.90" height="3.00" fill="#9c1a3a"/>
<rect x="167.40" y="577.20" width="1.90" height="1.30" fill="#9c1a3a"/>
<rect x="170.00" y="577.30" width="1.90" height="1.20" fill="#bdbdbd"/>
<rect x="172.61" y="577.30" width="1.90" height="1.20" fill="#bdbdbd"/>
<rect x="175.21" y="577.30" width="1.90" height="1.20" fill="#bdbdbd"/>
<rect x="177.82" y="574.00" width="1.90" height="4.50" fill="#bdbdbd"/>
<rect x="180.42" y="577.30" width="1.90" height="1.20" fill="#bdbdbd"/>
<rect x="183.03" y="577.30" width="1.90" height="1.20" fill="#bdbdbd"/>
<rect x="185.63" y="577.30" width="1.90" height="1.20" fill="#bdbdbd"/>
<rect x="188.24" y="573.00" width="1.90" height="5.50" fill="#bdbdbd"/>
<rect x="190.84" y="577.30" width="1.90" height="1.20" fill="#bdbdbd"/>
<rect x="193.45" y="577.30" width="1.90" height="1.20" fill="#bdbdbd"/>
<rect x="196.05" y="577.30" width="1.90" height="1.20" fill="#bdbdbd"/>
<rect x="198.66" y="577.30" width="1.90" height="1.20" fill="#bdbdbd"/>
<rect x="201.27" y="574.90" width="1.90" height="3.60" fill="#bdbdbd"/>
<rect x="203.87" y="577.30" width="1.90" height="1.20" fill="#bdbdbd"/>
<rect x="206.48" y="577.30" width="1.90" height="1.20" fill="#bdbdbd"/>
<rect x="209.08" y="575.60" width="1.90" height="2.90" fill="#bdbdbd"/>
<rect x="211.69" y="576.50" width="1.90" height="2.00" fill="#6aa040"/>
<rect x="214.29" y="577.00" width="1.90" height="1.50" fill="#6aa040"/>
<rect x="216.90" y="577.00" width="1.90" height="1.50" fill="#6aa040"/>
<rect x="219.50" y="576.00" width="1.90" height="2.50" fill="#6aa040"/>
<rect x="222.11" y="576.50" width="1.90" height="2.00" fill="#6aa040"/>
<rect x="224.71" y="571.60" width="1.90" height="6.90" fill="#6aa040"/>
<rect x="227.32" y="574.50" width="1.90" height="4.00" fill="#6aa040"/>
<rect x="229.92" y="559.30" width="1.90" height="19.20" fill="#6aa040"/>
<rect x="232.53" y="577.00" width="1.90" height="1.50" fill="#6aa040"/>
<rect x="235.13" y="575.50" width="1.90" height="3.00" fill="#6aa040"/>
<rect x="237.74" y="577.00" width="1.90" height="1.50" fill="#6aa040"/>
<rect x="240.34" y="575.50" width="1.90" height="3.00" fill="#6aa040"/>
<rect x="242.95" y="577.00" width="1.90" height="1.50" fill="#6aa040"/>
<rect x="245.55" y="575.50" width="1.90" height="3.00" fill="#6aa040"/>
<rect x="248.16" y="577.00" width="1.90" height="1.50" fill="#6aa040"/>
<rect x="250.76" y="572.80" width="1.90" height="5.70" fill="#6aa040"/>
<rect x="253.37" y="577.00" width="1.90" height="1.50" fill="#a8186c"/>
<rect x="255.97" y="577.00" width="1.90" height="1.50" fill="#a8186c"/>
<rect x="258.58" y="577.00" width="1.90" height="1.50" fill="#a8186c"/>
<rect x="261.18" y="567.20" width="1.90" height="11.30" fill="#a8186c"/>
<rect x="263.79" y="577.00" width="1.90" height="1.50" fill="#a8186c"/>
<rect x="266.40" y="574.00" width="1.90" height="4.50" fill="#a8186c"/>
<rect x="269.00" y="576.00" width="1.90" height="2.50" fill="#a8186c"/>
<rect x="271.61" y="529.20" width="1.90" height="49.30" fill="#a8186c"/>
<rect x="274.21" y="577.00" width="1.90" height="1.50" fill="#a8186c"/>
<rect x="276.82" y="576.50" width="1.90" height="2.00" fill="#a8186c"/>
<rect x="279.42" y="577.00" width="1.90" height="1.50" fill="#a8186c"/>
<rect x="282.03" y="564.00" width="1.90" height="14.50" fill="#a8186c"/>
<rect x="284.63" y="577.00" width="1.90" height="1.50" fill="#a8186c"/>
<rect x="287.24" y="576.50" width="1.90" height="2.00" fill="#a8186c"/>
<rect x="289.84" y="577.00" width="1.90" height="1.50" fill="#a8186c"/>
<rect x="292.45" y="555.90" width="1.90" height="22.60" fill="#a8186c"/>
<rect x="44.60" y="527.00" width="250.10" height="51.50" fill="none" stroke="#000" stroke-width="1.9"/>
<line x1="39.40" y1="527.00" x2="44.60" y2="527.00" stroke="#000" stroke-width="1.90"/>
<text transform="translate(11.00,530.50) scale(1.0261,1)" font-size="11.50" fill="#231f20"><tspan>20%</tspan></text>
<line x1="39.40" y1="553.70" x2="44.60" y2="553.70" stroke="#000" stroke-width="1.90"/>
<text transform="translate(11.50,557.20) scale(1.0043,1)" font-size="11.50" fill="#231f20"><tspan>10%</tspan></text>
<line x1="39.40" y1="578.50" x2="44.60" y2="578.50" stroke="#000" stroke-width="1.90"/>
<text transform="translate(17.90,582.00) scale(1.0050,1)" font-size="11.50" fill="#231f20"><tspan>0%</tspan></text>
<text transform="translate(119.70,542.30) scale(1.0140,1)" font-size="11.00" fill="#231f20"><tspan>Sig. 5 (</tspan><tspan font-style="italic">COSMIC 17</tspan><tspan>)</tspan></text>
<rect x="44.95" y="639.45" width="1.90" height="8.90" fill="#6d9ccc"/>
<rect x="47.56" y="644.05" width="1.90" height="4.30" fill="#6d9ccc"/>
<rect x="50.16" y="646.85" width="1.90" height="1.50" fill="#6d9ccc"/>
<rect x="52.77" y="643.05" width="1.90" height="5.30" fill="#6d9ccc"/>
<rect x="55.37" y="636.95" width="1.90" height="11.40" fill="#6d9ccc"/>
<rect x="57.98" y="643.85" width="1.90" height="4.50" fill="#6d9ccc"/>
<rect x="60.58" y="646.85" width="1.90" height="1.50" fill="#6d9ccc"/>
<rect x="63.19" y="637.35" width="1.90" height="11.00" fill="#6d9ccc"/>
<rect x="65.79" y="625.35" width="1.90" height="23.00" fill="#6d9ccc"/>
<rect x="68.40" y="643.25" width="1.90" height="5.10" fill="#6d9ccc"/>
<rect x="71.00" y="646.85" width="1.90" height="1.50" fill="#6d9ccc"/>
<rect x="73.61" y="633.65" width="1.90" height="14.70" fill="#6d9ccc"/>
<rect x="76.22" y="627.05" width="1.90" height="21.30" fill="#6d9ccc"/>
<rect x="78.82" y="637.75" width="1.90" height="10.60" fill="#6d9ccc"/>
<rect x="81.43" y="646.85" width="1.90" height="1.50" fill="#6d9ccc"/>
<rect x="84.03" y="610.45" width="1.90" height="37.90" fill="#6d9ccc"/>
<rect x="86.64" y="647.05" width="1.90" height="1.30" fill="#2a4470"/>
<rect x="89.24" y="647.05" width="1.90" height="1.30" fill="#2a4470"/>
<rect x="91.85" y="647.05" width="1.90" height="1.30" fill="#2a4470"/>
<rect x="94.45" y="647.05" width="1.90" height="1.30" fill="#2a4470"/>
<rect x="97.06" y="647.05" width="1.90" height="1.30" fill="#2a4470"/>
<rect x="99.66" y="647.05" width="1.90" height="1.30" fill="#2a4470"/>
<rect x="102.27" y="647.05" width="1.90" height="1.30" fill="#2a4470"/>
<rect x="104.87" y="646.85" width="1.90" height="1.50" fill="#2a4470"/>
<rect x="107.48" y="647.05" width="1.90" height="1.30" fill="#2a4470"/>
<rect x="110.08" y="647.05" width="1.90" height="1.30" fill="#2a4470"/>
<rect x="112.69" y="647.05" width="1.90" height="1.30" fill="#2a4470"/>
<rect x="115.29" y="647.05" width="1.90" height="1.30" fill="#2a4470"/>
<rect x="117.90" y="647.05" width="1.90" height="1.30" fill="#2a4470"/>
<rect x="120.50" y="647.05" width="1.90" height="1.30" fill="#2a4470"/>
<rect x="123.11" y="647.05" width="1.90" height="1.30" fill="#2a4470"/>
<rect x="125.71" y="647.05" width="1.90" height="1.30" fill="#2a4470"/>
<rect x="128.32" y="644.85" width="1.90" height="3.50" fill="#9c1a3a"/>
<rect x="130.92" y="646.15" width="1.90" height="2.20" fill="#9c1a3a"/>
<rect x="133.53" y="644.45" width="1.90" height="3.90" fill="#9c1a3a"/>
<rect x="136.13" y="646.15" width="1.90" height="2.20" fill="#9c1a3a"/>
<rect x="138.74" y="644.45" width="1.90" height="3.90" fill="#9c1a3a"/>
<rect x="141.35" y="646.15" width="1.90" height="2.20" fill="#9c1a3a"/>
<rect x="143.95" y="643.45" width="1.90" height="4.90" fill="#9c1a3a"/>
<rect x="146.56" y="646.15" width="1.90" height="2.20" fill="#9c1a3a"/>
<rect x="149.16" y="646.55" width="1.90" height="1.80" fill="#9c1a3a"/>
<rect x="151.77" y="646.55" width="1.90" height="1.80" fill="#9c1a3a"/>
<rect x="154.37" y="644.25" width="1.90" height="4.10" fill="#9c1a3a"/>
<rect x="156.98" y="646.55" width="1.90" height="1.80" fill="#9c1a3a"/>
<rect x="159.58" y="646.55" width="1.90" height="1.80" fill="#9c1a3a"/>
<rect x="162.19" y="644.75" width="1.90" height="3.60" fill="#9c1a3a"/>
<rect x="164.79" y="644.75" width="1.90" height="3.60" fill="#9c1a3a"/>
<rect x="167.40" y="644.75" width="1.90" height="3.60" fill="#9c1a3a"/>
<rect x="170.00" y="647.05" width="1.90" height="1.30" fill="#bdbdbd"/>
<rect x="172.61" y="647.05" width="1.90" height="1.30" fill="#bdbdbd"/>
<rect x="175.21" y="647.05" width="1.90" height="1.30" fill="#bdbdbd"/>
<rect x="177.82" y="647.05" width="1.90" height="1.30" fill="#bdbdbd"/>
<rect x="180.42" y="647.05" width="1.90" height="1.30" fill="#bdbdbd"/>
<rect x="183.03" y="647.05" width="1.90" height="1.30" fill="#bdbdbd"/>
<rect x="185.63" y="647.05" width="1.90" height="1.30" fill="#bdbdbd"/>
<rect x="188.24" y="647.05" width="1.90" height="1.30" fill="#bdbdbd"/>
<rect x="190.84" y="645.85" width="1.90" height="2.50" fill="#bdbdbd"/>
<rect x="193.45" y="647.05" width="1.90" height="1.30" fill="#bdbdbd"/>
<rect x="196.05" y="647.05" width="1.90" height="1.30" fill="#bdbdbd"/>
<rect x="198.66" y="647.05" width="1.90" height="1.30" fill="#bdbdbd"/>
<rect x="201.27" y="647.05" width="1.90" height="1.30" fill="#bdbdbd"/>
<rect x="203.87" y="647.05" width="1.90" height="1.30" fill="#bdbdbd"/>
<rect x="206.48" y="647.05" width="1.90" height="1.30" fill="#bdbdbd"/>
<rect x="209.08" y="647.05" width="1.90" height="1.30" fill="#bdbdbd"/>
<rect x="211.69" y="646.85" width="1.90" height="1.50" fill="#6aa040"/>
<rect x="214.29" y="647.05" width="1.90" height="1.30" fill="#6aa040"/>
<rect x="216.90" y="647.05" width="1.90" height="1.30" fill="#6aa040"/>
<rect x="219.50" y="646.85" width="1.90" height="1.50" fill="#6aa040"/>
<rect x="222.11" y="647.05" width="1.90" height="1.30" fill="#6aa040"/>
<rect x="224.71" y="647.05" width="1.90" height="1.30" fill="#6aa040"/>
<rect x="227.32" y="646.85" width="1.90" height="1.50" fill="#6aa040"/>
<rect x="229.92" y="647.05" width="1.90" height="1.30" fill="#6aa040"/>
<rect x="232.53" y="647.05" width="1.90" height="1.30" fill="#6aa040"/>
<rect x="235.13" y="647.05" width="1.90" height="1.30" fill="#6aa040"/>
<rect x="237.74" y="646.85" width="1.90" height="1.50" fill="#6aa040"/>
<rect x="240.34" y="647.05" width="1.90" height="1.30" fill="#6aa040"/>
<rect x="242.95" y="647.05" width="1.90" height="1.30" fill="#6aa040"/>
<rect x="245.55" y="646.85" width="1.90" height="1.50" fill="#6aa040"/>
<rect x="248.16" y="647.05" width="1.90" height="1.30" fill="#6aa040"/>
<rect x="250.76" y="647.05" width="1.90" height="1.30" fill="#6aa040"/>
<rect x="253.37" y="647.05" width="1.90" height="1.30" fill="#a8186c"/>
<rect x="255.97" y="646.85" width="1.90" height="1.50" fill="#a8186c"/>
<rect x="258.58" y="647.05" width="1.90" height="1.30" fill="#a8186c"/>
<rect x="261.18" y="647.05" width="1.90" height="1.30" fill="#a8186c"/>
<rect x="263.79" y="647.05" width="1.90" height="1.30" fill="#a8186c"/>
<rect x="266.40" y="646.85" width="1.90" height="1.50" fill="#a8186c"/>
<rect x="269.00" y="647.05" width="1.90" height="1.30" fill="#a8186c"/>
<rect x="271.61" y="647.05" width="1.90" height="1.30" fill="#a8186c"/>
<rect x="274.21" y="647.05" width="1.90" height="1.30" fill="#a8186c"/>
<rect x="276.82" y="646.85" width="1.90" height="1.50" fill="#a8186c"/>
<rect x="279.42" y="647.05" width="1.90" height="1.30" fill="#a8186c"/>
<rect x="282.03" y="647.05" width="1.90" height="1.30" fill="#a8186c"/>
<rect x="284.63" y="647.05" width="1.90" height="1.30" fill="#a8186c"/>
<rect x="287.24" y="647.05" width="1.90" height="1.30" fill="#a8186c"/>
<rect x="289.84" y="647.05" width="1.90" height="1.30" fill="#a8186c"/>
<rect x="292.45" y="644.85" width="1.90" height="3.50" fill="#a8186c"/>
<rect x="44.60" y="596.85" width="250.10" height="51.50" fill="none" stroke="#000" stroke-width="1.9"/>
<line x1="39.40" y1="596.85" x2="44.60" y2="596.85" stroke="#000" stroke-width="1.90"/>
<text transform="translate(11.00,600.35) scale(1.0261,1)" font-size="11.50" fill="#231f20"><tspan>20%</tspan></text>
<line x1="39.40" y1="623.55" x2="44.60" y2="623.55" stroke="#000" stroke-width="1.90"/>
<text transform="translate(11.50,627.05) scale(1.0043,1)" font-size="11.50" fill="#231f20"><tspan>10%</tspan></text>
<line x1="39.40" y1="648.35" x2="44.60" y2="648.35" stroke="#000" stroke-width="1.90"/>
<text transform="translate(17.90,651.85) scale(1.0050,1)" font-size="11.50" fill="#231f20"><tspan>0%</tspan></text>
<text transform="translate(119.70,612.30) scale(1.0100,1)" font-size="11.00" fill="#231f20"><tspan>Sig. 6 (</tspan><tspan font-style="italic">COSMIC 18</tspan><tspan>)</tspan></text>
<rect x="44.95" y="714.90" width="1.90" height="3.30" fill="#6d9ccc"/>
<rect x="47.56" y="717.00" width="1.90" height="1.20" fill="#6d9ccc"/>
<rect x="50.16" y="717.00" width="1.90" height="1.20" fill="#6d9ccc"/>
<rect x="52.77" y="715.70" width="1.90" height="2.50" fill="#6d9ccc"/>
<rect x="55.37" y="717.00" width="1.90" height="1.20" fill="#6d9ccc"/>
<rect x="57.98" y="717.00" width="1.90" height="1.20" fill="#6d9ccc"/>
<rect x="60.58" y="717.00" width="1.90" height="1.20" fill="#6d9ccc"/>
<rect x="63.19" y="717.00" width="1.90" height="1.20" fill="#6d9ccc"/>
<rect x="65.79" y="717.00" width="1.90" height="1.20" fill="#6d9ccc"/>
<rect x="68.40" y="717.00" width="1.90" height="1.20" fill="#6d9ccc"/>
<rect x="71.00" y="717.00" width="1.90" height="1.20" fill="#6d9ccc"/>
<rect x="73.61" y="717.00" width="1.90" height="1.20" fill="#6d9ccc"/>
<rect x="76.22" y="714.50" width="1.90" height="3.70" fill="#6d9ccc"/>
<rect x="78.82" y="717.00" width="1.90" height="1.20" fill="#6d9ccc"/>
<rect x="81.43" y="717.00" width="1.90" height="1.20" fill="#6d9ccc"/>
<rect x="84.03" y="714.50" width="1.90" height="3.70" fill="#6d9ccc"/>
<rect x="86.64" y="717.00" width="1.90" height="1.20" fill="#2a4470"/>
<rect x="89.24" y="717.00" width="1.90" height="1.20" fill="#2a4470"/>
<rect x="91.85" y="717.00" width="1.90" height="1.20" fill="#2a4470"/>
<rect x="94.45" y="716.20" width="1.90" height="2.00" fill="#2a4470"/>
<rect x="97.06" y="717.00" width="1.90" height="1.20" fill="#2a4470"/>
<rect x="99.66" y="717.00" width="1.90" height="1.20" fill="#2a4470"/>
<rect x="102.27" y="717.00" width="1.90" height="1.20" fill="#2a4470"/>
<rect x="104.87" y="717.00" width="1.90" height="1.20" fill="#2a4470"/>
<rect x="107.48" y="717.00" width="1.90" height="1.20" fill="#2a4470"/>
<rect x="110.08" y="717.00" width="1.90" height="1.20" fill="#2a4470"/>
<rect x="112.69" y="717.00" width="1.90" height="1.20" fill="#2a4470"/>
<rect x="115.29" y="717.00" width="1.90" height="1.20" fill="#2a4470"/>
<rect x="117.90" y="717.00" width="1.90" height="1.20" fill="#2a4470"/>
<rect x="120.50" y="717.00" width="1.90" height="1.20" fill="#2a4470"/>
<rect x="123.11" y="717.00" width="1.90" height="1.20" fill="#2a4470"/>
<rect x="125.71" y="716.20" width="1.90" height="2.00" fill="#2a4470"/>
<rect x="128.32" y="716.70" width="1.90" height="1.50" fill="#9c1a3a"/>
<rect x="130.92" y="717.00" width="1.90" height="1.20" fill="#9c1a3a"/>
<rect x="133.53" y="709.00" width="1.90" height="9.20" fill="#9c1a3a"/>
<rect x="136.13" y="717.00" width="1.90" height="1.20" fill="#9c1a3a"/>
<rect x="138.74" y="715.30" width="1.90" height="2.90" fill="#9c1a3a"/>
<rect x="141.35" y="717.00" width="1.90" height="1.20" fill="#9c1a3a"/>
<rect x="143.95" y="711.80" width="1.90" height="6.40" fill="#9c1a3a"/>
<rect x="146.56" y="717.00" width="1.90" height="1.20" fill="#9c1a3a"/>
<rect x="149.16" y="717.00" width="1.90" height="1.20" fill="#9c1a3a"/>
<rect x="151.77" y="717.00" width="1.90" height="1.20" fill="#9c1a3a"/>
<rect x="154.37" y="710.10" width="1.90" height="8.10" fill="#9c1a3a"/>
<rect x="156.98" y="717.00" width="1.90" height="1.20" fill="#9c1a3a"/>
<rect x="159.58" y="717.00" width="1.90" height="1.20" fill="#9c1a3a"/>
<rect x="162.19" y="717.00" width="1.90" height="1.20" fill="#9c1a3a"/>
<rect x="164.79" y="713.60" width="1.90" height="4.60" fill="#9c1a3a"/>
<rect x="167.40" y="714.90" width="1.90" height="3.30" fill="#9c1a3a"/>
<rect x="170.00" y="709.00" width="1.90" height="9.20" fill="#bdbdbd"/>
<rect x="172.61" y="716.70" width="1.90" height="1.50" fill="#bdbdbd"/>
<rect x="175.21" y="714.90" width="1.90" height="3.30" fill="#bdbdbd"/>
<rect x="177.82" y="709.80" width="1.90" height="8.40" fill="#bdbdbd"/>
<rect x="180.42" y="714.90" width="1.90" height="3.30" fill="#bdbdbd"/>
<rect x="183.03" y="716.70" width="1.90" height="1.50" fill="#bdbdbd"/>
<rect x="185.63" y="716.70" width="1.90" height="1.50" fill="#bdbdbd"/>
<rect x="188.24" y="716.70" width="1.90" height="1.50" fill="#bdbdbd"/>
<rect x="190.84" y="715.70" width="1.90" height="2.50" fill="#bdbdbd"/>
<rect x="193.45" y="716.70" width="1.90" height="1.50" fill="#bdbdbd"/>
<rect x="196.05" y="716.70" width="1.90" height="1.50" fill="#bdbdbd"/>
<rect x="198.66" y="716.70" width="1.90" height="1.50" fill="#bdbdbd"/>
<rect x="201.27" y="709.20" width="1.90" height="9.00" fill="#bdbdbd"/>
<rect x="203.87" y="716.70" width="1.90" height="1.50" fill="#bdbdbd"/>
<rect x="206.48" y="714.90" width="1.90" height="3.30" fill="#bdbdbd"/>
<rect x="209.08" y="716.70" width="1.90" height="1.50" fill="#bdbdbd"/>
<rect x="211.69" y="709.60" width="1.90" height="8.60" fill="#6aa040"/>
<rect x="214.29" y="714.20" width="1.90" height="4.00" fill="#6aa040"/>
<rect x="216.90" y="716.20" width="1.90" height="2.00" fill="#6aa040"/>
<rect x="219.50" y="709.20" width="1.90" height="9.00" fill="#6aa040"/>
<rect x="222.11" y="714.20" width="1.90" height="4.00" fill="#6aa040"/>
<rect x="224.71" y="715.70" width="1.90" height="2.50" fill="#6aa040"/>
<rect x="227.32" y="714.20" width="1.90" height="4.00" fill="#6aa040"/>
<rect x="229.92" y="712.40" width="1.90" height="5.80" fill="#6aa040"/>
<rect x="232.53" y="714.20" width="1.90" height="4.00" fill="#6aa040"/>
<rect x="235.13" y="715.20" width="1.90" height="3.00" fill="#6aa040"/>
<rect x="237.74" y="715.20" width="1.90" height="3.00" fill="#6aa040"/>
<rect x="240.34" y="714.10" width="1.90" height="4.10" fill="#6aa040"/>
<rect x="242.95" y="711.00" width="1.90" height="7.20" fill="#6aa040"/>
<rect x="245.55" y="714.20" width="1.90" height="4.00" fill="#6aa040"/>
<rect x="248.16" y="715.20" width="1.90" height="3.00" fill="#6aa040"/>
<rect x="250.76" y="707.20" width="1.90" height="11.00" fill="#6aa040"/>
<rect x="253.37" y="709.60" width="1.90" height="8.60" fill="#a8186c"/>
<rect x="255.97" y="716.20" width="1.90" height="2.00" fill="#a8186c"/>
<rect x="258.58" y="716.20" width="1.90" height="2.00" fill="#a8186c"/>
<rect x="261.18" y="715.20" width="1.90" height="3.00" fill="#a8186c"/>
<rect x="263.79" y="714.40" width="1.90" height="3.80" fill="#a8186c"/>
<rect x="266.40" y="716.20" width="1.90" height="2.00" fill="#a8186c"/>
<rect x="269.00" y="715.70" width="1.90" height="2.50" fill="#a8186c"/>
<rect x="271.61" y="716.20" width="1.90" height="2.00" fill="#a8186c"/>
<rect x="274.21" y="715.70" width="1.90" height="2.50" fill="#a8186c"/>
<rect x="276.82" y="716.70" width="1.90" height="1.50" fill="#a8186c"/>
<rect x="279.42" y="716.70" width="1.90" height="1.50" fill="#a8186c"/>
<rect x="282.03" y="716.70" width="1.90" height="1.50" fill="#a8186c"/>
<rect x="284.63" y="707.90" width="1.90" height="10.30" fill="#a8186c"/>
<rect x="287.24" y="715.20" width="1.90" height="3.00" fill="#a8186c"/>
<rect x="289.84" y="715.20" width="1.90" height="3.00" fill="#a8186c"/>
<rect x="292.45" y="709.20" width="1.90" height="9.00" fill="#a8186c"/>
<rect x="44.60" y="666.70" width="250.10" height="51.50" fill="none" stroke="#000" stroke-width="1.9"/>
<line x1="39.40" y1="666.70" x2="44.60" y2="666.70" stroke="#000" stroke-width="1.90"/>
<text transform="translate(11.00,670.20) scale(1.0261,1)" font-size="11.50" fill="#231f20"><tspan>20%</tspan></text>
<line x1="39.40" y1="693.40" x2="44.60" y2="693.40" stroke="#000" stroke-width="1.90"/>
<text transform="translate(11.50,696.90) scale(1.0043,1)" font-size="11.50" fill="#231f20"><tspan>10%</tspan></text>
<line x1="39.40" y1="718.20" x2="44.60" y2="718.20" stroke="#000" stroke-width="1.90"/>
<text transform="translate(17.90,721.70) scale(1.0050,1)" font-size="11.50" fill="#231f20"><tspan>0%</tspan></text>
<text transform="translate(135.00,681.80) scale(1.0381,1)" font-size="11.00" fill="#231f20"><tspan>Sig. 7 (Novel)</tspan></text>
<rect x="44.60" y="719.90" width="41.68" height="4.20" fill="#7aaee0"/>
<rect x="86.28" y="719.90" width="41.68" height="4.20" fill="#2f4b7c"/>
<rect x="127.97" y="719.90" width="41.68" height="4.20" fill="#b3163a"/>
<rect x="169.65" y="719.90" width="41.68" height="4.20" fill="#cdcdcd"/>
<rect x="211.33" y="719.90" width="41.68" height="4.20" fill="#74b343"/>
<rect x="253.02" y="719.90" width="41.68" height="4.20" fill="#c6147a"/>
<text transform="translate(53.00,739.30) scale(1.1076,1)" font-size="11.20" fill="#231f20"><tspan>C&gt;A</tspan></text>
<text transform="translate(94.30,739.30) scale(1.0791,1)" font-size="11.20" fill="#231f20"><tspan>C&gt;G</tspan></text>
<text transform="translate(137.00,739.30) scale(1.1097,1)" font-size="11.20" fill="#231f20"><tspan>C&gt;T</tspan></text>
<text transform="translate(180.00,739.30) scale(1.0772,1)" font-size="11.20" fill="#231f20"><tspan>T&gt;A</tspan></text>
<text transform="translate(221.30,739.30) scale(1.0724,1)" font-size="11.20" fill="#231f20"><tspan>T&gt;C</tspan></text>
<text transform="translate(262.50,739.30) scale(1.0759,1)" font-size="11.20" fill="#231f20"><tspan>T&gt;G</tspan></text>
<text transform="translate(323.90,231.25) scale(0.9393,1)" font-size="17.30" font-weight="bold" fill="#000" stroke="#000" stroke-width="0.55"><tspan>D</tspan></text>
<line x1="380.90" y1="253.10" x2="380.90" y2="357.90" stroke="#000" stroke-width="2.00"/>
<line x1="379.90" y1="356.90" x2="503.00" y2="356.90" stroke="#000" stroke-width="2.00"/>
<line x1="376.30" y1="257.90" x2="380.90" y2="257.90" stroke="#000" stroke-width="2.00"/>
<text transform="translate(343.77,262.25) scale(1.0200,1)" font-size="12.00" fill="#231f20"><tspan>8000</tspan></text>
<line x1="376.30" y1="282.65" x2="380.90" y2="282.65" stroke="#000" stroke-width="2.00"/>
<text transform="translate(343.77,287.00) scale(1.0200,1)" font-size="12.00" fill="#231f20"><tspan>6000</tspan></text>
<line x1="376.30" y1="307.40" x2="380.90" y2="307.40" stroke="#000" stroke-width="2.00"/>
<text transform="translate(343.77,311.75) scale(1.0200,1)" font-size="12.00" fill="#231f20"><tspan>4000</tspan></text>
<line x1="376.30" y1="332.15" x2="380.90" y2="332.15" stroke="#000" stroke-width="2.00"/>
<text transform="translate(343.77,336.50) scale(1.0200,1)" font-size="12.00" fill="#231f20"><tspan>2000</tspan></text>
<line x1="376.30" y1="356.90" x2="380.90" y2="356.90" stroke="#000" stroke-width="2.00"/>
<text transform="translate(364.21,361.25) scale(1.0200,1)" font-size="12.00" fill="#231f20"><tspan>0</tspan></text>
<text transform="translate(335.30,305.30) rotate(-90) scale(0.7620,1)" font-size="15.50" fill="#231f20" stroke="#231f20" stroke-width="0.2" text-anchor="middle">No. of mutations</text>
<text transform="translate(427.70,251.20) scale(0.9785,1)" font-size="11.20" fill="#231f20"><tspan>Sig. 2</tspan></text>
<text transform="translate(421.09,264.50) scale(1.0169,1)" font-size="11.40" fill="#231f20"><tspan font-style="italic">p</tspan><tspan>=0.004</tspan></text>
<line x1="413.00" y1="356.90" x2="413.00" y2="361.50" stroke="#000" stroke-width="2.00"/>
<line x1="477.00" y1="356.90" x2="477.00" y2="361.50" stroke="#000" stroke-width="2.00"/>
<line x1="413.00" y1="304.92" x2="413.00" y2="356.90" stroke="#000" stroke-width="2.00"/>
<line x1="409.00" y1="304.92" x2="417.00" y2="304.92" stroke="#000" stroke-width="2.00"/>
<rect x="409.00" y="328.35" width="7.60" height="7.60" fill="#b5062f" stroke="#8a0022" stroke-width="0.6"/>
<line x1="477.00" y1="328.44" x2="477.00" y2="356.90" stroke="#000" stroke-width="2.00"/>
<line x1="473.00" y1="328.44" x2="481.00" y2="328.44" stroke="#000" stroke-width="2.00"/>
<circle cx="476.80" cy="344.52" r="3.75" fill="#2d4b8c" stroke="#1d3366" stroke-width="0.6"/>
<text transform="translate(391.10,376.50) scale(0.9968,1)" font-size="12.00" fill="#231f20"><tspan>HBsAg</tspan></text>
<line x1="429.30" y1="369.20" x2="434.30" y2="369.20" stroke="#231f20" stroke-width="1.15"/>
<line x1="431.80" y1="366.80" x2="431.80" y2="371.60" stroke="#231f20" stroke-width="1.15"/>
<text transform="translate(456.55,376.50) scale(0.9968,1)" font-size="12.00" fill="#231f20"><tspan>HBsAg</tspan></text>
<line x1="494.95" y1="369.50" x2="497.45" y2="369.50" stroke="#231f20" stroke-width="1.15"/>
<line x1="380.90" y1="434.80" x2="380.90" y2="539.60" stroke="#000" stroke-width="2.00"/>
<line x1="379.90" y1="538.60" x2="503.00" y2="538.60" stroke="#000" stroke-width="2.00"/>
<line x1="376.30" y1="439.60" x2="380.90" y2="439.60" stroke="#000" stroke-width="2.00"/>
<text transform="translate(343.77,443.95) scale(1.0200,1)" font-size="12.00" fill="#231f20"><tspan>8000</tspan></text>
<line x1="376.30" y1="464.35" x2="380.90" y2="464.35" stroke="#000" stroke-width="2.00"/>
<text transform="translate(343.77,468.70) scale(1.0200,1)" font-size="12.00" fill="#231f20"><tspan>6000</tspan></text>
<line x1="376.30" y1="489.10" x2="380.90" y2="489.10" stroke="#000" stroke-width="2.00"/>
<text transform="translate(343.77,493.45) scale(1.0200,1)" font-size="12.00" fill="#231f20"><tspan>4000</tspan></text>
<line x1="376.30" y1="513.85" x2="380.90" y2="513.85" stroke="#000" stroke-width="2.00"/>
<text transform="translate(343.77,518.20) scale(1.0200,1)" font-size="12.00" fill="#231f20"><tspan>2000</tspan></text>
<line x1="376.30" y1="538.60" x2="380.90" y2="538.60" stroke="#000" stroke-width="2.00"/>
<text transform="translate(364.21,542.95) scale(1.0200,1)" font-size="12.00" fill="#231f20"><tspan>0</tspan></text>
<text transform="translate(335.30,487.30) rotate(-90) scale(0.7620,1)" font-size="15.50" fill="#231f20" stroke="#231f20" stroke-width="0.2" text-anchor="middle">No. of mutations</text>
<text transform="translate(427.70,430.50) scale(0.9785,1)" font-size="11.20" fill="#231f20"><tspan>Sig. 6</tspan></text>
<text transform="translate(421.09,444.20) scale(1.0169,1)" font-size="11.40" fill="#231f20"><tspan font-style="italic">p</tspan><tspan>=0.009</tspan></text>
<line x1="413.00" y1="538.60" x2="413.00" y2="543.20" stroke="#000" stroke-width="2.00"/>
<line x1="477.00" y1="538.60" x2="477.00" y2="543.20" stroke="#000" stroke-width="2.00"/>
<line x1="413.00" y1="487.62" x2="413.00" y2="530.56" stroke="#000" stroke-width="2.00"/>
<line x1="409.00" y1="487.62" x2="417.00" y2="487.62" stroke="#000" stroke-width="2.00"/>
<line x1="409.00" y1="530.56" x2="417.00" y2="530.56" stroke="#000" stroke-width="2.00"/>
<rect x="409.00" y="505.47" width="7.60" height="7.60" fill="#b5062f" stroke="#8a0022" stroke-width="0.6"/>
<line x1="477.00" y1="493.43" x2="477.00" y2="538.60" stroke="#000" stroke-width="2.00"/>
<line x1="473.00" y1="493.43" x2="481.00" y2="493.43" stroke="#000" stroke-width="2.00"/>
<circle cx="476.80" cy="520.66" r="3.75" fill="#2d4b8c" stroke="#1d3366" stroke-width="0.6"/>
<text transform="translate(391.10,558.20) scale(0.9968,1)" font-size="12.00" fill="#231f20"><tspan>HBsAg</tspan></text>
<line x1="429.30" y1="550.90" x2="434.30" y2="550.90" stroke="#231f20" stroke-width="1.15"/>
<line x1="431.80" y1="548.50" x2="431.80" y2="553.30" stroke="#231f20" stroke-width="1.15"/>
<text transform="translate(456.55,558.20) scale(0.9968,1)" font-size="12.00" fill="#231f20"><tspan>HBsAg</tspan></text>
<line x1="494.95" y1="551.20" x2="497.45" y2="551.20" stroke="#231f20" stroke-width="1.15"/>
<line x1="380.90" y1="615.20" x2="380.90" y2="720.00" stroke="#000" stroke-width="2.00"/>
<line x1="379.90" y1="719.00" x2="503.00" y2="719.00" stroke="#000" stroke-width="2.00"/>
<line x1="376.30" y1="620.00" x2="380.90" y2="620.00" stroke="#000" stroke-width="2.00"/>
<text transform="translate(343.77,624.35) scale(1.0200,1)" font-size="12.00" fill="#231f20"><tspan>8000</tspan></text>
<line x1="376.30" y1="644.75" x2="380.90" y2="644.75" stroke="#000" stroke-width="2.00"/>
<text transform="translate(343.77,649.10) scale(1.0200,1)" font-size="12.00" fill="#231f20"><tspan>6000</tspan></text>
<line x1="376.30" y1="669.50" x2="380.90" y2="669.50" stroke="#000" stroke-width="2.00"/>
<text transform="translate(343.77,673.85) scale(1.0200,1)" font-size="12.00" fill="#231f20"><tspan>4000</tspan></text>
<line x1="376.30" y1="694.25" x2="380.90" y2="694.25" stroke="#000" stroke-width="2.00"/>
<text transform="translate(343.77,698.60) scale(1.0200,1)" font-size="12.00" fill="#231f20"><tspan>2000</tspan></text>
<line x1="376.30" y1="719.00" x2="380.90" y2="719.00" stroke="#000" stroke-width="2.00"/>
<text transform="translate(364.21,723.35) scale(1.0200,1)" font-size="12.00" fill="#231f20"><tspan>0</tspan></text>
<text transform="translate(335.30,667.30) rotate(-90) scale(0.7620,1)" font-size="15.50" fill="#231f20" stroke="#231f20" stroke-width="0.2" text-anchor="middle">No. of mutations</text>
<text transform="translate(427.70,611.20) scale(0.9785,1)" font-size="11.20" fill="#231f20"><tspan>Sig. 7</tspan></text>
<text transform="translate(421.09,624.80) scale(1.0169,1)" font-size="11.40" fill="#231f20"><tspan font-style="italic">p</tspan><tspan>=0.027</tspan></text>
<line x1="413.00" y1="719.00" x2="413.00" y2="723.60" stroke="#000" stroke-width="2.00"/>
<line x1="477.00" y1="719.00" x2="477.00" y2="723.60" stroke="#000" stroke-width="2.00"/>
<line x1="413.00" y1="661.70" x2="413.00" y2="705.76" stroke="#000" stroke-width="2.00"/>
<line x1="409.00" y1="661.70" x2="417.00" y2="661.70" stroke="#000" stroke-width="2.00"/>
<line x1="409.00" y1="705.76" x2="417.00" y2="705.76" stroke="#000" stroke-width="2.00"/>
<rect x="409.00" y="680.06" width="7.60" height="7.60" fill="#b5062f" stroke="#8a0022" stroke-width="0.6"/>
<line x1="477.00" y1="661.95" x2="477.00" y2="719.00" stroke="#000" stroke-width="2.00"/>
<line x1="473.00" y1="661.95" x2="481.00" y2="661.95" stroke="#000" stroke-width="2.00"/>
<circle cx="476.80" cy="693.14" r="3.75" fill="#2d4b8c" stroke="#1d3366" stroke-width="0.6"/>
<text transform="translate(391.10,738.60) scale(0.9968,1)" font-size="12.00" fill="#231f20"><tspan>HBsAg</tspan></text>
<line x1="429.30" y1="731.30" x2="434.30" y2="731.30" stroke="#231f20" stroke-width="1.15"/>
<line x1="431.80" y1="728.90" x2="431.80" y2="733.70" stroke="#231f20" stroke-width="1.15"/>
<text transform="translate(456.55,738.60) scale(0.9968,1)" font-size="12.00" fill="#231f20"><tspan>HBsAg</tspan></text>
<line x1="494.95" y1="731.60" x2="497.45" y2="731.60" stroke="#231f20" stroke-width="1.15"/>
</svg>
</body></html>
